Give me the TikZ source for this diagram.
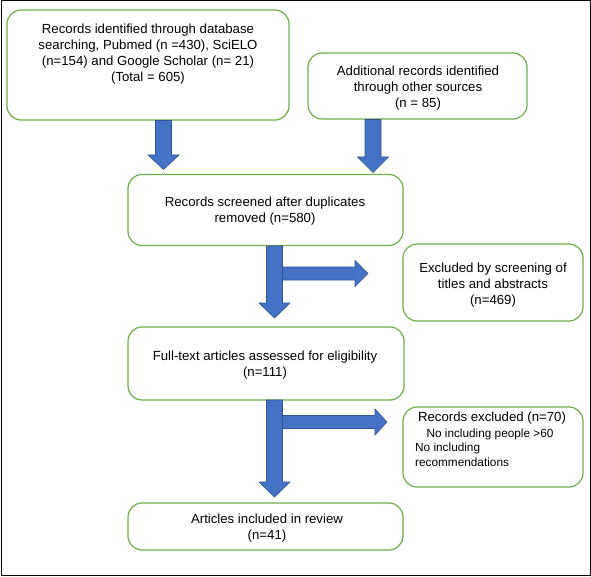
\documentclass[tikz,border=0pt]{standalone}
\usepackage{fontspec}
\setmainfont{Liberation Sans}
\begin{document}
\begin{tikzpicture}[x=1pt,y=-1pt,
  box/.style={draw=boxgreen,line width=1.2pt,rounded corners=14pt,fill=white,inner sep=0pt},
  txt/.style={font=\fontsize{13.2}{15.8}\selectfont,align=center,inner sep=0pt,text=black},
  smalltxt/.style={font=\fontsize{11.8}{14.5}\selectfont,inner sep=0pt,text=black},
  blockarrow/.style={fill=arrowblue,draw=arrowedge,line width=0.6pt,line join=miter}]
\definecolor{boxgreen}{HTML}{70AD47}
\definecolor{arrowblue}{HTML}{4472C4}
\definecolor{arrowedge}{HTML}{2F5597}
\useasboundingbox (0,0) rectangle (591,577);
\draw[black,line width=1pt] (1,1) rectangle (590,575);

% boxes
\node[box,minimum width=282pt,minimum height=110pt] (b1) at (148,65) {};
\node[txt] (t1) at (148,54) {Records identified through database\\searching, Pubmed (n =430), SciELO\\(n=154) and Google Scholar (n= 21)\\(Total = 605)};
\node[box,minimum width=219pt,minimum height=66pt] (b2) at (417.5,86) {};
\node[txt] (t2) at (418,88) {Additional records identified\\through other sources\\(n = 85)};
\node[box,minimum width=275pt,minimum height=71pt] (b3) at (265.5,210) {};
\node[txt] (t3) at (265,211) {Records screened after duplicates\\removed (n=580)};
\node[box,minimum width=180pt,minimum height=77pt] (e1) at (493,282.5) {};
\node[txt] (te1) at (493,285) {Excluded by screening of\\titles and abstracts\\(n=469)};
\node[box,minimum width=276pt,minimum height=73pt] (b4) at (266,363.5) {};
\node[txt] (t4) at (265,365) {Full-text articles assessed for eligibility\\(n=111)};
\node[box,minimum width=180pt,minimum height=80pt] (e2) at (493,447) {};
\node[txt] (te2a) at (492,418) {Records excluded (n=70)};
\node[smalltxt] (te2b) at (490,434) {No including people >60};
\node[smalltxt,align=left,anchor=west] (te2c) at (415,455) {No including\\recommendations};
\node[box,minimum width=275pt,minimum height=47pt] (b5) at (265.5,526.5) {};
\node[txt] (t5) at (267,528) {Articles included in review\\(n=41)};

% block arrows
\newcommand{\downblk}[4]{% x center, top, head base, tip
  \draw[blockarrow] (#1-8,#2) -- (#1+8,#2) -- (#1+8,#3) -- (#1+15.5,#3) -- (#1,#4) -- (#1-15.5,#3) -- (#1-8,#3) -- cycle;}
\newcommand{\rightblk}[4]{% y center, left, head base, tip
  \draw[blockarrow] (#2,#1-6.5) -- (#3,#1-6.5) -- (#3,#1-13) -- (#4,#1) -- (#3,#1+13) -- (#3,#1+6.5) -- (#2,#1+6.5) -- cycle;}
\downblk{163.5}{120.5}{155}{169.5}
\downblk{373}{119.5}{157}{172.5}
\rightblk{273.5}{282}{355}{368}
\downblk{274.5}{246}{303}{318}
\rightblk{422}{282}{375}{387}
\downblk{274.5}{400}{482}{497}
\end{tikzpicture}
\end{document}
